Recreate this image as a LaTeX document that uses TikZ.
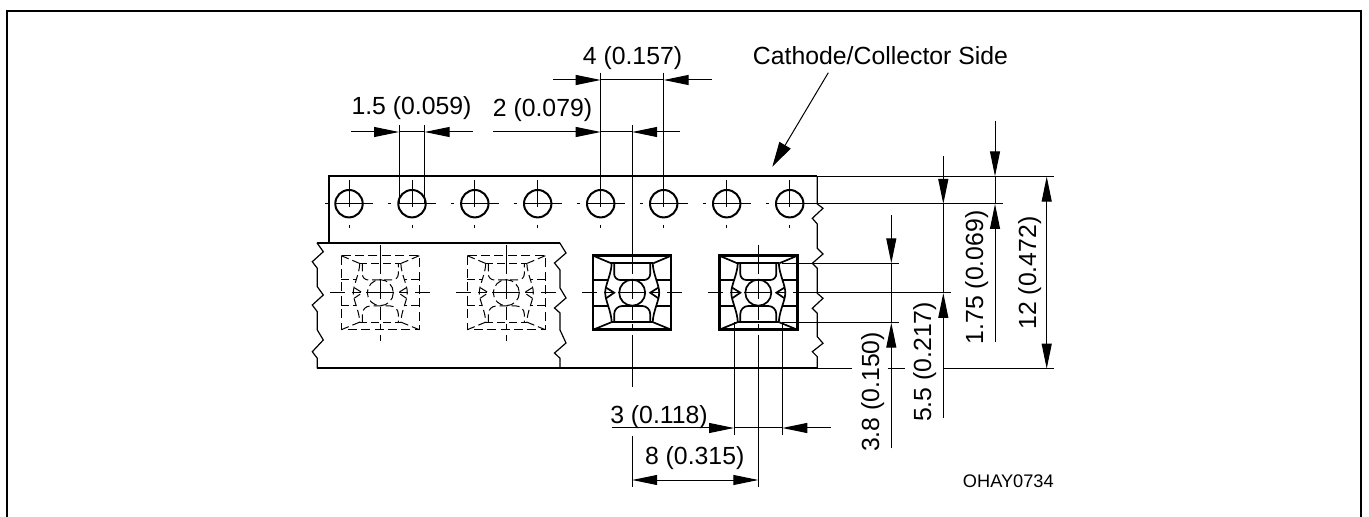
\documentclass[tikz,border=0pt]{standalone}
\usepackage{fontspec}
\setmainfont{Liberation Sans}
\usetikzlibrary{arrows.meta}
\tikzset{
  framepath/.style={line width=1.1pt,black},
  tapethick/.style={line width=1pt,black},
  tapethin/.style={line width=0.6pt,black},
  thinline/.style={line width=0.5pt,black},
  dimarrow/.style={line width=0.5pt,black,-{Triangle[length=12.5pt,width=5pt,fill=black]}},
  holeline/.style={line width=1pt,black},
  lab/.style={inner sep=0pt,anchor=base,font=\fontsize{12.4}{14}\selectfont},
  vlab/.style={lab,rotate=90},
  smalllab/.style={inner sep=0pt,anchor=base,font=\fontsize{9.1}{11}\selectfont},
  solidouter/.style={line width=1.25pt,black,line cap=butt},
  solidinner/.style={line width=0.85pt,black},
  dashouter/.style={line width=0.5pt,black,dash pattern=on 4.5pt off 2.2pt},
  dashinner/.style={line width=0.5pt,black,dash pattern=on 4pt off 2pt},
}
% hole of the sprocket row
\newcommand{\sprockethole}[1]{%
  \begin{scope}[shift={(#1,203.7)}]
    \draw[holeline] (0,0) circle [radius=13.7];
    \draw[thinline] (-24,0)--(-21,0) (-14,0)--(24,0) (0,-24)--(0,3) (0,21)--(0,24);
  \end{scope}}
% component: x, outer style, inner style, top and bottom of centre line (relative)
\newcommand{\tapepart}[5]{%
  \begin{scope}[shift={(#1,292.7)}]
    \draw[#2] (-39,-37) rectangle (39,37);
    \draw[#3] (-39,-37)--(-21,-29.4) (39,-37)--(21,-29.4) (-39,37)--(-21,29.6) (39,37)--(21,29.6);
    \draw[#3] (-21,-29.4)--(21,-29.4) (-21,29.6)--(21,29.6);
    \draw[#3] (-20.5,-29.4) .. controls (-21,-18) and (-27,-8) .. (-27,0) .. controls (-27,8) and (-21,18) .. (-20.5,29.6);
    \draw[#3] (20.5,-29.4) .. controls (21,-18) and (27,-8) .. (27,0) .. controls (27,8) and (21,18) .. (20.5,29.6);
    \draw[#3] (-39,-12.7)--(-24.5,-12.7) (39,-12.7)--(24.5,-12.7) (-39,13.3)--(-24.5,13.3) (39,13.3)--(24.5,13.3);
    \draw[#3,rounded corners=3pt] (-18,-29.4)--(-18,-12.7)--(18,-12.7)--(18,-29.4);
    \draw[#3,rounded corners=4pt] (-18,29.6)--(-18,13.3)--(18,13.3)--(18,29.6);
    \draw[#3] (0,0) circle [radius=13];
    \draw[#3] (-26,-5)--(-18,0)--(-26,5.5) (26,-5)--(18,0)--(26,5.5);
    \draw[thinline] (0,#4)--(0,-19) (0,-14)--(0,6) (0,14)--(0,27) (0,31)--(0,37) (0,42)--(0,#5);
    \draw[thinline] (-50,0)--(-35,0) (-28,0)--(-19,0) (-14,0)--(14,0) (19,0)--(28,0) (35,0)--(50,0);
  \end{scope}}
\begin{document}
\begin{tikzpicture}[x=0.5pt,y=-0.5pt]
\useasboundingbox (0,0) rectangle (1369,517);
% frame, cut off at the bottom of the picture
\draw[framepath] (7,525)--(7,11)--(1361,11)--(1361,525);

% tape outline
\draw[tapethick] (328.7,242.7)--(328.7,176.3)--(817.3,176.3);
\draw[tapethick] (317.3,242.7)--(560,242.7);
\draw[tapethick] (317.3,368.5)--(817.3,368.5);
\draw[tapethin] (317.3,242.7)--(317.3,243.3)--(323.3,251.7)--(312.3,261.7)--(317.3,268.3)--(317.3,286.7)--(323.3,295)--(312.3,305)--(317.3,311.7)--(317.3,330)--(323.3,340)--(312.3,351.7)--(317.3,358.3)--(317.3,368.5);
\draw[tapethin] (560,242.7)--(560,243.3)--(566,253)--(554.5,263)--(560,270)--(560,288)--(566,298)--(554.5,308)--(560,313)--(560,330)--(566,343)--(554.5,353)--(560,358.3)--(560,368.5);
\draw[tapethin] (817.3,176.3)--(817.3,204)--(823,208.3)--(812.3,218.3)--(817.3,224)--(817.3,248.3)--(823,254)--(812.3,263.3)--(817.3,268.3)--(817.3,293.3)--(823,298.3)--(812.3,308.3)--(817.3,313.3)--(817.3,336.7)--(823,343.3)--(812.3,351.7)--(817.3,356.7)--(817.3,368.5);

% sprocket holes
\sprockethole{349}
\sprockethole{412}
\sprockethole{474.8}
\sprockethole{537.7}
\sprockethole{600.7}
\sprockethole{663.7}
\sprockethole{726.7}
\sprockethole{789.7}

% components
\tapepart{380.3}{dashouter}{dashinner}{-48}{48}
\tapepart{506.3}{dashouter}{dashinner}{-48}{48}
\tapepart{632.2}{solidouter}{solidinner}{-167.7}{94}
\tapepart{758.3}{solidouter}{solidinner}{-48}{194}
\draw[thinline] (632.2,435.7)--(632.2,486.7);

% extension lines, top
\draw[thinline] (399,124.7)--(399,203) (424.7,124.7)--(424.7,203);
\draw[thinline] (600.7,72.7)--(600.7,203) (663.7,72.7)--(663.7,203);
% 1.5
\draw[dimarrow] (351,132)--(399,132);
\draw[dimarrow] (473,132)--(424.7,132);
\draw[thinline] (399,132)--(424.7,132);
\node[lab] (t15) at (411.5,115) {1.5 (0.059)};
% 2
\draw[dimarrow] (493,132)--(600.7,132);
\draw[dimarrow] (680,132)--(632.2,132);
\draw[thinline] (600.7,132)--(632.2,132);
\node[lab] (t2) at (542.5,117) {2 (0.079)};
% 4
\draw[dimarrow] (553,80)--(600.7,80);
\draw[dimarrow] (712,80)--(663.7,80);
\draw[thinline] (600.7,80)--(663.7,80);
\node[lab] (t4) at (632.5,65) {4 (0.157)};
% cathode label with leader
\node[lab] (cath) at (880.5,65) {Cathode/Collector Side};
\coordinate (leadstart) at (828.3,72.7);
\coordinate (leadtip) at (772.3,166.7);
\draw[line width=0.5pt,black,-{Triangle[length=12.5pt,width=6.5pt,fill=black]}] (leadstart)--(leadtip);

% extension lines, right
\draw[thinline] (817.3,176.3)--(1054,176.3);
\draw[thinline] (803,204)--(1002.7,204);
\draw[thinline] (782.3,263.3)--(899,263.3);
\draw[thinline] (808,293)--(950.7,293);
\draw[thinline] (782.3,322.7)--(899,322.7);
\draw[thinline] (817.3,368.7)--(852,368.7) (887.7,368.7)--(905,368.7) (943.3,368.7)--(1054,368.7);
% 3.8
\draw[dimarrow] (891.3,215)--(891.3,263.3);
\draw[dimarrow] (891.3,448.3)--(891.3,322.7);
\draw[thinline] (891.3,263.3)--(891.3,322.7);
\node[vlab] (t38) at (879,392) {3.8 (0.150)};
% 5.5
\draw[dimarrow] (943.3,156)--(943.3,204);
\draw[dimarrow] (943.3,418.3)--(943.3,293);
\draw[thinline] (943.3,204)--(943.3,293);
\node[vlab] (t55) at (931,362) {5.5 (0.217)};
% 1.75
\draw[dimarrow] (995,120.7)--(995,176.3);
\draw[dimarrow] (995,342.3)--(995,204);
\draw[thinline] (995,176.3)--(995,204);
\node[vlab] (t175) at (983,277.5) {1.75 (0.069)};
% 12
\draw[dimarrow] (1046.7,273)--(1046.7,176.6);
\draw[dimarrow] (1046.7,273)--(1046.7,368.7);
\node[vlab] (t12) at (1036,273) {12 (0.472)};

% extension lines, bottom
\draw[thinline] (734,322)--(734,435) (782.3,322)--(782.3,435);
% 3
\draw[dimarrow] (611.7,428)--(734,428);
\draw[dimarrow] (830.7,428)--(782.3,428);
\draw[thinline] (734,428)--(782.3,428);
\node[lab] (t3) at (659,423.5) {3 (0.118)};
% 8
\draw[dimarrow] (695,480)--(632.2,480);
\draw[dimarrow] (695,480)--(758.3,480);
\node[lab] (t8) at (694.7,465) {8 (0.315)};

\node[smalllab] (code) at (1008.3,487.3) {OHAY0734};
\end{tikzpicture}
\end{document}
